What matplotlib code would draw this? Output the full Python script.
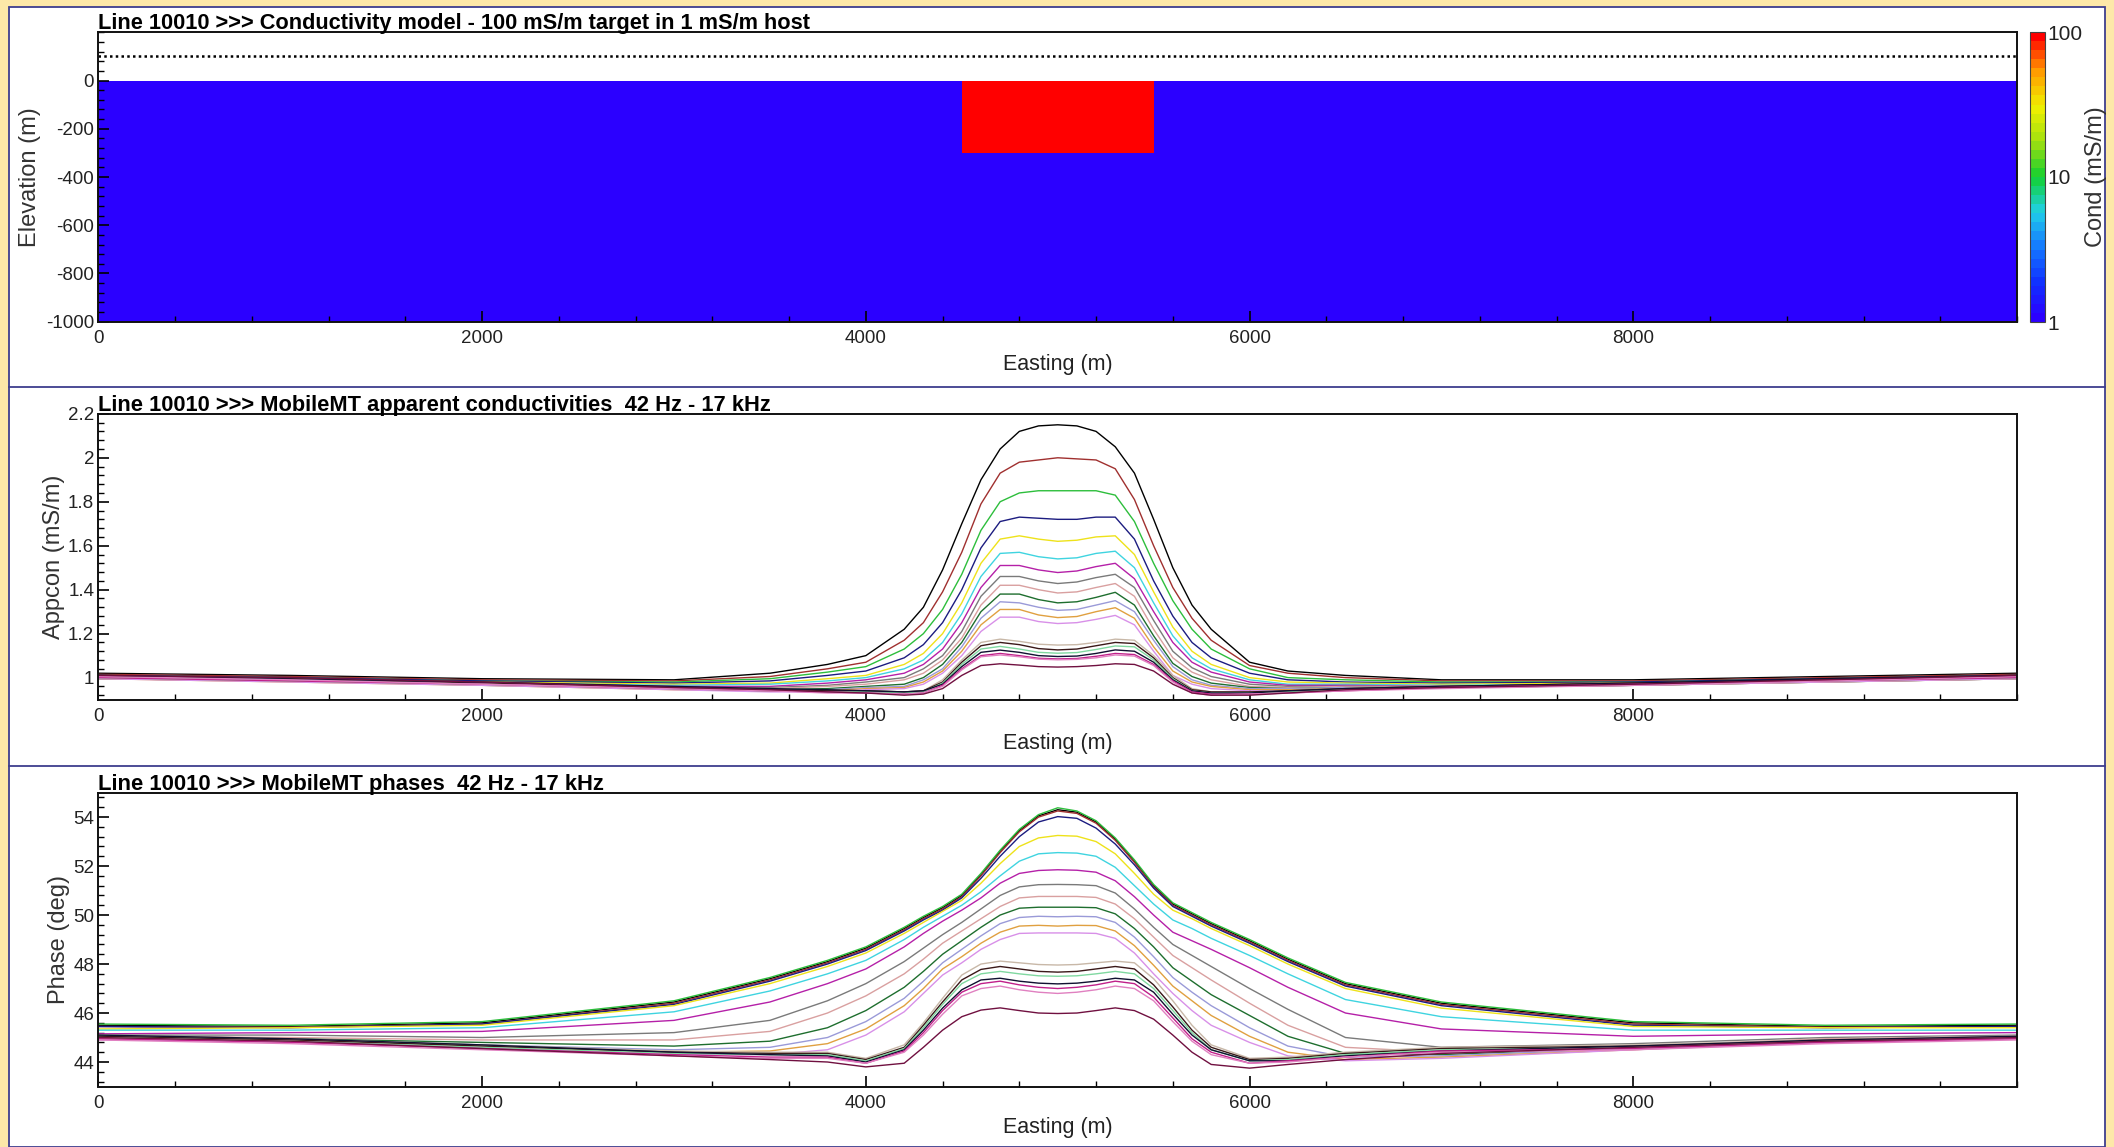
import matplotlib
matplotlib.use("Agg")
import matplotlib.pyplot as plt
from matplotlib.colors import LinearSegmentedColormap, LogNorm
from matplotlib.ticker import MultipleLocator, FixedLocator, FuncFormatter
from matplotlib.patches import Rectangle
from matplotlib.lines import Line2D
from matplotlib import transforms

plt.rcParams['axes.unicode_minus'] = False
FONT = 'Liberation Sans'

# ---------------- data ----------------
# conductivity model
model_x_edges = [0, 4500, 5500, 10000]
model_z_edges = [-1000, -300, 0]
model_cond = [[1, 1, 1],
              [1, 100, 1]]
sensor_x = [0, 10000]
sensor_z = [100, 100]

# profile stations (m)
X = [0, 1000, 2000, 3000, 3500, 3800, 4000, 4200, 4300, 4400, 4500, 4600, 4700, 4800, 4900,
     5000, 5100, 5200, 5300, 5400, 5500, 5600, 5700, 5800, 6000, 6200, 6500, 7000, 8000, 9000, 10000]

curve_colors = ['#000000', '#A0302F', '#2DBE3C', '#1C1C80', '#EEE21A', '#3FD4E0', '#B520A8',
                '#7A7A7A', '#D9A0A0', '#1E6E2E', '#9A9AD8', '#E0A040', '#D890E8', '#C8B8A8',
                '#3A1818', '#80D8A0', '#101030', '#C0208A', '#E080C0', '#701040']

# apparent conductivity (mS/m), one list per frequency
app_01 = [1.02, 1.01, 0.995, 0.99, 1.02, 1.06, 1.10, 1.22, 1.32, 1.49, 1.70, 1.90, 2.04, 2.12, 2.145, 2.15, 2.145, 2.12, 2.05, 1.93, 1.72, 1.50, 1.33, 1.22, 1.07, 1.03, 1.01, 0.99, 0.99, 1.005, 1.02]
app_02 = [1.015, 1.005, 0.99, 0.985, 1.005, 1.04, 1.07, 1.17, 1.25, 1.39, 1.57, 1.79, 1.93, 1.98, 1.99, 2.0, 1.995, 1.99, 1.95, 1.81, 1.60, 1.41, 1.27, 1.17, 1.055, 1.02, 1.0, 0.985, 0.985, 1.0, 1.015]
app_03 = [1.01, 1.0, 0.985, 0.98, 0.995, 1.025, 1.05, 1.13, 1.20, 1.31, 1.47, 1.67, 1.80, 1.84, 1.85, 1.85, 1.85, 1.85, 1.83, 1.71, 1.52, 1.35, 1.22, 1.13, 1.04, 1.0, 0.99, 0.98, 0.98, 0.995, 1.01]
app_04 = [1.01, 1.0, 0.985, 0.975, 0.985, 1.01, 1.03, 1.09, 1.15, 1.25, 1.40, 1.59, 1.71, 1.73, 1.725, 1.72, 1.72, 1.73, 1.73, 1.63, 1.44, 1.28, 1.16, 1.09, 1.02, 0.99, 0.98, 0.975, 0.98, 0.995, 1.01]
app_05 = [1.005, 0.995, 0.98, 0.97, 0.975, 0.995, 1.01, 1.06, 1.11, 1.20, 1.34, 1.52, 1.63, 1.645, 1.63, 1.62, 1.625, 1.64, 1.645, 1.56, 1.39, 1.23, 1.12, 1.06, 1.0, 0.98, 0.975, 0.97, 0.975, 0.99, 1.005]
app_06 = [1.0, 0.99, 0.975, 0.965, 0.97, 0.985, 1.0, 1.04, 1.08, 1.16, 1.29, 1.46, 1.565, 1.57, 1.55, 1.54, 1.545, 1.565, 1.575, 1.50, 1.34, 1.19, 1.09, 1.04, 0.99, 0.97, 0.97, 0.965, 0.97, 0.985, 1.0]
app_07 = [1.0, 0.99, 0.975, 0.96, 0.96, 0.975, 0.99, 1.02, 1.06, 1.13, 1.25, 1.41, 1.51, 1.51, 1.49, 1.478, 1.485, 1.505, 1.52, 1.45, 1.30, 1.16, 1.07, 1.025, 0.98, 0.965, 0.965, 0.96, 0.965, 0.985, 1.0]
app_08 = [1.0, 0.99, 0.97, 0.955, 0.955, 0.965, 0.98, 1.0, 1.04, 1.10, 1.21, 1.37, 1.46, 1.46, 1.44, 1.428, 1.435, 1.455, 1.47, 1.41, 1.26, 1.12, 1.045, 1.005, 0.97, 0.96, 0.96, 0.96, 0.965, 0.985, 1.0]
app_09 = [0.995, 0.985, 0.97, 0.955, 0.95, 0.96, 0.97, 0.99, 1.02, 1.08, 1.18, 1.33, 1.42, 1.42, 1.40, 1.385, 1.39, 1.41, 1.428, 1.37, 1.22, 1.09, 1.025, 0.99, 0.96, 0.955, 0.96, 0.96, 0.965, 0.98, 0.995]
app_10 = [0.995, 0.985, 0.97, 0.95, 0.945, 0.95, 0.96, 0.97, 1.0, 1.06, 1.16, 1.30, 1.38, 1.38, 1.355, 1.34, 1.345, 1.365, 1.388, 1.33, 1.19, 1.065, 1.005, 0.975, 0.955, 0.95, 0.955, 0.955, 0.965, 0.98, 0.995]
app_11 = [0.995, 0.985, 0.965, 0.95, 0.94, 0.945, 0.955, 0.96, 0.99, 1.04, 1.14, 1.27, 1.345, 1.34, 1.32, 1.306, 1.31, 1.33, 1.35, 1.30, 1.17, 1.05, 0.99, 0.965, 0.95, 0.95, 0.955, 0.955, 0.965, 0.98, 0.995]
app_12 = [0.995, 0.98, 0.965, 0.945, 0.94, 0.94, 0.95, 0.955, 0.98, 1.03, 1.12, 1.24, 1.31, 1.31, 1.285, 1.273, 1.278, 1.30, 1.318, 1.27, 1.14, 1.03, 0.98, 0.96, 0.945, 0.945, 0.95, 0.955, 0.965, 0.98, 0.995]
app_13 = [0.995, 0.98, 0.965, 0.945, 0.935, 0.935, 0.945, 0.95, 0.97, 1.02, 1.10, 1.21, 1.275, 1.275, 1.255, 1.246, 1.25, 1.265, 1.283, 1.24, 1.12, 1.01, 0.97, 0.95, 0.94, 0.94, 0.95, 0.955, 0.965, 0.98, 0.995]
app_14 = [1.0, 0.985, 0.97, 0.95, 0.94, 0.935, 0.94, 0.935, 0.94, 0.99, 1.08, 1.16, 1.175, 1.165, 1.152, 1.148, 1.15, 1.16, 1.175, 1.17, 1.10, 1.01, 0.95, 0.935, 0.935, 0.94, 0.95, 0.96, 0.97, 0.985, 1.0]
app_15 = [1.005, 0.99, 0.975, 0.955, 0.945, 0.94, 0.94, 0.935, 0.94, 0.98, 1.07, 1.145, 1.16, 1.15, 1.132, 1.126, 1.13, 1.145, 1.16, 1.155, 1.09, 1.0, 0.945, 0.935, 0.935, 0.94, 0.95, 0.96, 0.975, 0.99, 1.005]
app_16 = [1.0, 0.985, 0.97, 0.95, 0.94, 0.935, 0.935, 0.93, 0.935, 0.975, 1.06, 1.13, 1.142, 1.13, 1.115, 1.111, 1.114, 1.128, 1.144, 1.14, 1.08, 0.995, 0.94, 0.93, 0.93, 0.935, 0.945, 0.955, 0.97, 0.985, 1.0]
app_17 = [1.01, 0.995, 0.98, 0.96, 0.95, 0.945, 0.94, 0.935, 0.94, 0.97, 1.05, 1.115, 1.125, 1.115, 1.10, 1.096, 1.098, 1.11, 1.126, 1.12, 1.07, 0.99, 0.94, 0.93, 0.93, 0.94, 0.95, 0.96, 0.975, 0.995, 1.01]
app_18 = [1.0, 0.985, 0.97, 0.95, 0.94, 0.935, 0.93, 0.925, 0.93, 0.965, 1.04, 1.10, 1.11, 1.10, 1.088, 1.085, 1.087, 1.097, 1.11, 1.105, 1.06, 0.985, 0.935, 0.925, 0.925, 0.93, 0.94, 0.955, 0.97, 0.985, 1.0]
app_19 = [1.005, 0.99, 0.97, 0.95, 0.94, 0.93, 0.93, 0.925, 0.93, 0.96, 1.035, 1.095, 1.103, 1.095, 1.084, 1.081, 1.083, 1.09, 1.103, 1.098, 1.055, 0.98, 0.93, 0.92, 0.925, 0.93, 0.94, 0.95, 0.965, 0.985, 1.005]
app_20 = [1.01, 1.0, 0.98, 0.955, 0.945, 0.935, 0.93, 0.92, 0.925, 0.95, 1.01, 1.055, 1.063, 1.057, 1.05, 1.048, 1.05, 1.055, 1.063, 1.06, 1.03, 0.97, 0.93, 0.92, 0.92, 0.93, 0.945, 0.955, 0.97, 0.99, 1.01]

# phases (deg), one list per frequency
ph_01 = [45.5, 45.45, 45.6, 46.45, 47.4, 48.1, 48.65, 49.45, 49.9, 50.3, 50.8, 51.65, 52.6, 53.45, 54.05, 54.3, 54.2, 53.8, 53.1, 52.2, 51.2, 50.45, 50.05, 49.65, 48.95, 48.2, 47.2, 46.4, 45.6, 45.45, 45.5]
ph_02 = [45.45, 45.42, 45.55, 46.4, 47.35, 48.05, 48.6, 49.4, 49.85, 50.25, 50.75, 51.6, 52.55, 53.4, 54.0, 54.25, 54.15, 53.75, 53.05, 52.15, 51.15, 50.4, 50.0, 49.6, 48.9, 48.15, 47.15, 46.35, 45.55, 45.42, 45.45]
ph_03 = [45.55, 45.5, 45.65, 46.5, 47.45, 48.15, 48.7, 49.5, 49.95, 50.35, 50.85, 51.7, 52.65, 53.5, 54.1, 54.38, 54.25, 53.85, 53.15, 52.25, 51.25, 50.5, 50.1, 49.7, 49.0, 48.25, 47.25, 46.45, 45.65, 45.5, 45.55]
ph_04 = [45.45, 45.4, 45.55, 46.35, 47.3, 48.0, 48.55, 49.35, 49.8, 50.2, 50.7, 51.5, 52.4, 53.2, 53.8, 54.02, 53.95, 53.55, 52.9, 52.05, 51.1, 50.35, 49.95, 49.55, 48.85, 48.1, 47.1, 46.3, 45.5, 45.4, 45.45]
ph_05 = [45.35, 45.4, 45.5, 46.3, 47.2, 47.9, 48.45, 49.25, 49.7, 50.15, 50.6, 51.3, 52.1, 52.8, 53.15, 53.25, 53.22, 53.0, 52.5, 51.7, 50.85, 50.2, 49.85, 49.45, 48.75, 48.0, 47.0, 46.2, 45.45, 45.4, 45.4]
ph_06 = [45.3, 45.3, 45.4, 46.05, 46.9, 47.6, 48.15, 49.0, 49.5, 49.95, 50.4, 50.95, 51.6, 52.2, 52.5, 52.55, 52.53, 52.4, 51.95, 51.2, 50.45, 49.8, 49.45, 49.05, 48.35, 47.6, 46.55, 45.85, 45.3, 45.3, 45.3]
ph_07 = [45.15, 45.2, 45.25, 45.7, 46.45, 47.2, 47.8, 48.7, 49.25, 49.75, 50.2, 50.7, 51.3, 51.7, 51.82, 51.85, 51.83, 51.75, 51.4, 50.75, 50.0, 49.3, 48.95, 48.6, 47.85, 47.05, 46.0, 45.35, 45.05, 45.15, 45.2]
ph_08 = [45.1, 45.1, 45.0, 45.2, 45.7, 46.5, 47.2, 48.1, 48.65, 49.2, 49.7, 50.25, 50.8, 51.15, 51.24, 51.25, 51.24, 51.2, 50.9, 50.25, 49.5, 48.8, 48.35, 47.9, 47.0, 46.15, 45.0, 44.6, 44.75, 45.0, 45.1]
ph_09 = [45.05, 45.0, 44.9, 44.9, 45.25, 46.0, 46.7, 47.6, 48.2, 48.85, 49.35, 49.85, 50.35, 50.7, 50.76, 50.76, 50.76, 50.72, 50.45, 49.85, 49.1, 48.35, 47.85, 47.35, 46.4, 45.5, 44.6, 44.4, 44.65, 44.95, 45.05]
ph_10 = [45.0, 44.95, 44.8, 44.65, 44.85, 45.4, 46.1, 47.05, 47.7, 48.4, 48.95, 49.5, 50.0, 50.28, 50.32, 50.32, 50.32, 50.3, 50.05, 49.45, 48.7, 47.85, 47.3, 46.75, 45.9, 45.05, 44.35, 44.3, 44.6, 44.9, 45.0]
ph_11 = [44.95, 44.9, 44.7, 44.5, 44.6, 45.0, 45.65, 46.6, 47.3, 48.05, 48.6, 49.15, 49.65, 49.9, 49.95, 49.93, 49.95, 49.93, 49.7, 49.1, 48.3, 47.45, 46.85, 46.3, 45.4, 44.65, 44.2, 44.25, 44.55, 44.85, 45.0]
ph_12 = [44.95, 44.9, 44.65, 44.4, 44.45, 44.75, 45.35, 46.3, 47.0, 47.8, 48.3, 48.85, 49.3, 49.55, 49.58, 49.55, 49.58, 49.57, 49.35, 48.75, 47.95, 47.1, 46.5, 45.9, 45.05, 44.4, 44.1, 44.2, 44.5, 44.85, 44.95]
ph_13 = [44.9, 44.85, 44.6, 44.3, 44.3, 44.5, 45.1, 46.05, 46.8, 47.55, 48.05, 48.6, 49.0, 49.25, 49.27, 49.27, 49.27, 49.25, 49.05, 48.45, 47.6, 46.8, 46.1, 45.5, 44.8, 44.25, 44.05, 44.15, 44.5, 44.8, 44.95]
ph_14 = [45.1, 44.95, 44.7, 44.45, 44.4, 44.4, 44.15, 44.7, 45.6, 46.6, 47.55, 48.0, 48.12, 48.05, 47.98, 47.96, 47.98, 48.05, 48.12, 48.05, 47.4, 46.5, 45.5, 44.7, 44.15, 44.2, 44.4, 44.6, 44.7, 44.9, 45.05]
ph_15 = [45.05, 44.9, 44.65, 44.4, 44.35, 44.35, 44.1, 44.6, 45.5, 46.45, 47.35, 47.78, 47.9, 47.8, 47.7, 47.67, 47.7, 47.8, 47.9, 47.8, 47.15, 46.25, 45.3, 44.6, 44.1, 44.15, 44.35, 44.55, 44.65, 44.85, 45.0]
ph_16 = [45.0, 44.85, 44.6, 44.35, 44.3, 44.3, 44.05, 44.55, 45.4, 46.35, 47.2, 47.6, 47.7, 47.6, 47.52, 47.5, 47.52, 47.6, 47.7, 47.6, 47.0, 46.1, 45.2, 44.5, 44.05, 44.1, 44.3, 44.5, 44.6, 44.85, 45.0]
ph_17 = [45.1, 44.95, 44.7, 44.4, 44.3, 44.25, 44.0, 44.5, 45.3, 46.2, 46.95, 47.35, 47.42, 47.3, 47.22, 47.19, 47.22, 47.3, 47.42, 47.35, 46.85, 45.95, 45.1, 44.5, 44.05, 44.05, 44.25, 44.45, 44.65, 44.9, 45.05]
ph_18 = [44.95, 44.8, 44.55, 44.3, 44.2, 44.2, 43.95, 44.45, 45.2, 46.1, 46.85, 47.2, 47.3, 47.15, 47.05, 47.0, 47.05, 47.15, 47.3, 47.2, 46.65, 45.8, 44.95, 44.4, 43.95, 44.05, 44.2, 44.45, 44.55, 44.8, 44.95]
ph_19 = [44.9, 44.75, 44.5, 44.25, 44.15, 44.15, 43.95, 44.4, 45.1, 45.95, 46.7, 47.0, 47.1, 46.95, 46.85, 46.8, 46.85, 46.95, 47.1, 47.0, 46.5, 45.65, 44.85, 44.3, 43.95, 44.0, 44.2, 44.4, 44.5, 44.75, 44.9]
ph_20 = [45.0, 44.85, 44.55, 44.25, 44.1, 44.0, 43.8, 43.95, 44.6, 45.3, 45.85, 46.12, 46.21, 46.1, 46.0, 45.98, 46.0, 46.1, 46.21, 46.1, 45.75, 45.1, 44.4, 43.9, 43.75, 43.9, 44.1, 44.35, 44.6, 44.85, 45.0]

appcon_curves = [app_01, app_02, app_03, app_04, app_05, app_06, app_07, app_08, app_09, app_10,
                 app_11, app_12, app_13, app_14, app_15, app_16, app_17, app_18, app_19, app_20]
phase_curves = [ph_01, ph_02, ph_03, ph_04, ph_05, ph_06, ph_07, ph_08, ph_09, ph_10,
                ph_11, ph_12, ph_13, ph_14, ph_15, ph_16, ph_17, ph_18, ph_19, ph_20]

titles = ["Line 10010 >>> Conductivity model - 100 mS/m target in 1 mS/m host",
          "Line 10010 >>> MobileMT apparent conductivities  42 Hz - 17 kHz",
          "Line 10010 >>> MobileMT phases  42 Hz - 17 kHz"]
title_widths_px = [711, 673, 505]
xticks = [0, 2000, 4000, 6000, 8000]

# ---------------- figure ----------------
W, H = 2114, 1147
fig = plt.figure(figsize=(W / 100, H / 100), dpi=100)
fig.patch.set_facecolor('#FDE8A8')
renderer = fig.canvas.get_renderer()


def fit_size(text, target_px, base=14.0, weight='normal'):
    t = fig.text(0, 0, text, fontfamily=FONT, fontsize=base, fontweight=weight)
    w = t.get_window_extent(renderer).width
    t.remove()
    return base * target_px / w


def fx(px):
    return px / W


def fy(py):
    return 1 - py / H


edge = '#3E3E8E'
fig.add_artist(Rectangle((fx(9), 0), fx(2105) - fx(9), fy(6.5), transform=fig.transFigure,
                         facecolor='white', edgecolor=edge, lw=1.3, zorder=-5))
for ysep in (386.5, 766):
    fig.add_artist(Line2D([fx(9), fx(2105)], [fy(ysep), fy(ysep)], transform=fig.transFigure,
                          color=edge, lw=1.3, zorder=-4))

L, R = 98.4, 2017.0


def make_ax(top, bottom):
    return fig.add_axes([fx(L), fy(bottom), fx(R) - fx(L), (bottom - top) / H])


ax1 = make_ax(32.3, 321.7)
ax2 = make_ax(413.8, 699.6)
ax3 = make_ax(792.6, 1086.5)

tick_fs = fit_size('2000', 42)


def style_axes(ax, ylabel, ylab_x, xlab_y, ymaj, ymin_step, yfmt):
    ax.set_xlim(0, 10000)
    ax.xaxis.set_major_locator(FixedLocator(xticks))
    ax.xaxis.set_minor_locator(MultipleLocator(400))
    ax.yaxis.set_major_locator(FixedLocator(ymaj))
    ax.yaxis.set_minor_locator(MultipleLocator(ymin_step))
    ax.yaxis.set_major_formatter(FuncFormatter(yfmt))
    ax.tick_params(which='both', direction='in', colors='black')
    ax.tick_params(which='major', length=8, width=1.2)
    ax.tick_params(which='minor', length=4, width=1.0)
    ax.tick_params(axis='x', pad=6)
    ax.tick_params(axis='y', pad=3)
    for lab in ax.get_xticklabels() + ax.get_yticklabels():
        lab.set_fontfamily(FONT)
        lab.set_fontsize(tick_fs)
        lab.set_color('#222222')
    for sp in ax.spines.values():
        sp.set_linewidth(1.4)
        sp.set_color('#111111')
    ax.set_xlabel('Easting (m)', fontfamily=FONT, fontsize=15.5, color='#222222')
    ax.xaxis.label.set_va('center')
    ax.xaxis.set_label_coords(0.5, xlab_y)
    ax.set_ylabel(ylabel, fontfamily=FONT, fontsize=17, color='#333333')
    ax.yaxis.label.set_va('center')
    ax.yaxis.set_label_coords(ylab_x, 0.5)


def add_title(ax, text, width_px):
    size = fit_size(text, width_px, weight='bold')
    tr = transforms.offset_copy(ax.transAxes, fig=fig, x=0, y=3, units='dots')
    ax.text(0, 1, text, transform=tr, ha='left', va='baseline', fontfamily=FONT,
            fontweight='bold', fontsize=size, color='black')


# ---- panel 1: model ----
cmap = LinearSegmentedColormap.from_list(
    'cond', ['#2B00FF', '#1030FF', '#1478FF', '#20D0E8', '#12D030', '#A0E010',
             '#F0F000', '#FF9A00', '#FF0000'], N=32)
norm = LogNorm(vmin=1, vmax=100)
mesh = ax1.pcolormesh(model_x_edges, model_z_edges, model_cond, cmap=cmap, norm=norm,
                      shading='flat', zorder=1)
ax1.plot(sensor_x, sensor_z, color='black', lw=1.8, linestyle=(0, (1, 1.3)), zorder=2)
ax1.set_ylim(-1000, 200)
style_axes(ax1, 'Elevation (m)', -68.7 / (R - L), -43 / 289.4,
           [0, -200, -400, -600, -800, -1000], 40, lambda v, p: '%d' % v)
add_title(ax1, titles[0], title_widths_px[0])

cax = fig.add_axes([fx(2030), fy(322), fx(2045) - fx(2030), (322 - 32) / H])
cb = fig.colorbar(mesh, cax=cax)
cb.set_ticks([1, 10, 100])
cb.set_ticklabels(['1', '10', '100'])
cax.minorticks_off()
cax.tick_params(length=0, pad=2, labelsize=15)
for lab in cax.get_yticklabels():
    lab.set_fontfamily(FONT)
    lab.set_color('#222222')
cb.outline.set_linewidth(0.8)
cb.outline.set_edgecolor('#444444')
cb.set_label('Cond (mS/m)', fontfamily=FONT, fontsize=17, color='#333333')
cax.yaxis.label.set_va('center')
cax.yaxis.set_label_coords((2096 - 2030) / 15, 0.5)

# ---- panel 2: apparent conductivity ----
for vals, c in zip(appcon_curves, curve_colors):
    ax2.plot(X, vals, color=c, lw=1.0)
ax2.set_ylim(0.9, 2.2)
style_axes(ax2, 'Appcon (mS/m)', -44.4 / (R - L), -43.4 / 285.8,
           [1.0, 1.2, 1.4, 1.6, 1.8, 2.0, 2.2], 0.04, lambda v, p: '%g' % round(v, 2))
add_title(ax2, titles[1], title_widths_px[1])

# ---- panel 3: phase ----
for vals, c in zip(phase_curves, curve_colors):
    ax3.plot(X, vals, color=c, lw=1.0)
ax3.set_ylim(43, 55)
style_axes(ax3, 'Phase (deg)', -39.4 / (R - L), -40.5 / 293.9,
           [44, 46, 48, 50, 52, 54], 0.4, lambda v, p: '%d' % round(v))
add_title(ax3, titles[2], title_widths_px[2])

fig.savefig('out.png', dpi=100, facecolor=fig.get_facecolor())
